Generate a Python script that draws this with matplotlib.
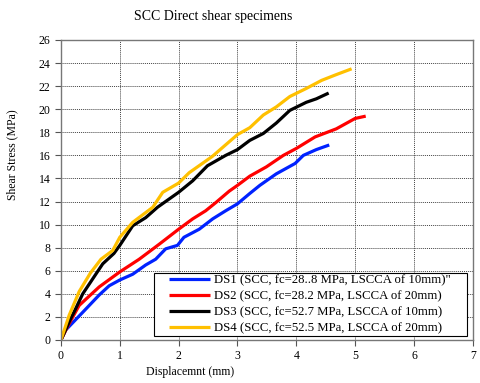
import matplotlib.pyplot as plt
from matplotlib.patches import Rectangle

plt.rcParams['font.family'] = ['Liberation Serif', 'DejaVu Serif']

# DS1 (blue)
ds1_x = [0, 0.08, 0.37, 0.65, 0.82, 1.0, 1.22, 1.44, 1.61, 1.78, 1.98, 2.09, 2.35, 2.58, 2.8, 3.0,
         3.21, 3.38, 3.66, 3.98, 4.12, 4.34, 4.56]
ds1_y = [0, 0.86, 2.4, 3.9, 4.7, 5.2, 5.7, 6.5, 7.0, 7.9, 8.2, 8.9, 9.6, 10.5, 11.2, 11.8,
         12.7, 13.4, 14.4, 15.3, 16.0, 16.5, 16.9]
# DS2 (red)
ds2_x = [0, 0.11, 0.31, 0.65, 1.0, 1.33, 1.67, 2.0, 2.24, 2.46, 2.63, 2.86, 3.0, 3.21,
         3.49, 3.78, 4.0, 4.32, 4.68, 5.0, 5.18]
ds2_y = [0, 1.15, 3.0, 4.6, 5.9, 7.0, 8.3, 9.6, 10.5, 11.2, 11.9, 12.9, 13.4, 14.2,
         15.0, 16.0, 16.6, 17.6, 18.3, 19.2, 19.4]
# DS3 (black)
ds3_x = [0, 0.17, 0.23, 0.37, 0.54, 0.71, 0.9, 1.0, 1.22, 1.44, 1.64, 2.0, 2.24, 2.49, 2.8, 3.0,
         3.21, 3.44, 3.66, 3.89, 4.17, 4.34, 4.55]
ds3_y = [0, 1.9, 2.5, 4.0, 5.3, 6.6, 7.5, 8.2, 9.9, 10.6, 11.5, 12.8, 13.8, 15.1, 16.0, 16.5,
         17.3, 17.9, 18.8, 19.9, 20.6, 20.9, 21.4]
# DS4 (yellow)
ds4_x = [0, 0.14, 0.31, 0.5, 0.68, 0.88, 1.0, 1.22, 1.56, 1.73, 2.0, 2.18, 2.57, 3.0,
         3.21, 3.44, 3.66, 3.89, 4.17, 4.43, 4.68, 4.94]
ds4_y = [0, 2.15, 4.2, 5.8, 7.0, 7.76, 8.9, 10.2, 11.5, 12.8, 13.6, 14.5, 15.9, 17.8,
         18.4, 19.5, 20.2, 21.1, 21.8, 22.5, 23.0, 23.5]

labels = ['DS1 (SCC, fc=28..8 MPa, LSCCA of 10mm)"',
          'DS2 (SCC, fc=28.2 MPa, LSCCA of 20mm)',
          'DS3 (SCC, fc=52.7 MPa, LSCCA of 10mm)',
          'DS4 (SCC, fc=52.5 MPa, LSCCA of 20mm)']
colors = ['#0022ff', '#ff0000', '#000000', '#ffc000']

fig = plt.figure(figsize=(4.8, 3.83), dpi=100)
ax = fig.add_axes([0.127, 0.1123, 0.858, 0.7833])

for xs, ys, lab, c in zip([ds1_x, ds2_x, ds3_x, ds4_x], [ds1_y, ds2_y, ds3_y, ds4_y], labels, colors):
    ax.plot(xs, ys, color=c, lw=2.3, label=lab, solid_capstyle='butt')

ax.set_xlim(0, 7)
ax.set_ylim(0, 26)
ax.set_xticks(range(0, 8))
ax.set_yticks(range(0, 27, 2))
ax.grid(True, color='#444444', linestyle=(0, (1, 1)), linewidth=0.7)
ax.tick_params(labelsize=8.5, length=4, width=0.8, color='#555555')
for s in ax.spines.values():
    s.set_color('#777777')
    s.set_linewidth(1.0)

fig.text(0.444, 0.958, 'SCC Direct shear specimens', fontsize=10, ha='center', va='center')
fig.text(0.025, 0.595, 'Shear Stress (MPa)', fontsize=8.5, rotation=90, ha='center', va='center')
fig.text(0.396, 0.028, 'Displacemnt (mm)', fontsize=8.5, ha='center', va='center')

# legend box drawn separately, entries placed inside
box = Rectangle((0.226, 0.013), 0.759, 0.21, transform=ax.transAxes, facecolor='white',
                edgecolor='black', linewidth=0.8, zorder=4)
ax.add_patch(box)
leg = ax.legend(loc='center left', bbox_to_anchor=(0.262, 0.118),
                fontsize=9.2, frameon=False, handlelength=3.2,
                borderpad=0, labelspacing=0.32, handletextpad=0.35, borderaxespad=0)
leg.set_zorder(5)

fig.savefig('out.png', dpi=100)
